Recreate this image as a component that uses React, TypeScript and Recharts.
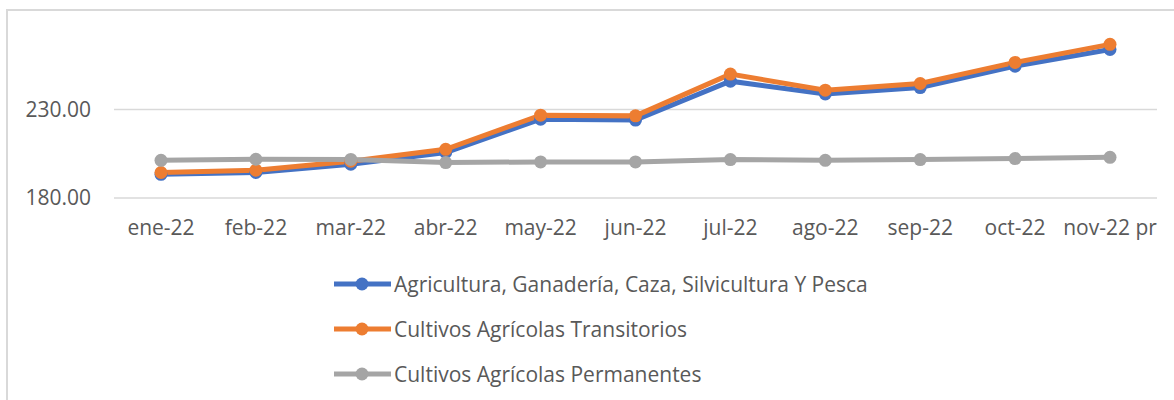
import React from 'react';
import { LineChart, Line, XAxis, YAxis, CartesianGrid, Legend } from 'recharts';

const categories = ['ene-22', 'feb-22', 'mar-22', 'abr-22', 'may-22', 'jun-22', 'jul-22', 'ago-22', 'sep-22', 'oct-22', 'nov-22 pr'];
const agricultura = [193.4, 194.4, 199.1, 205.7, 224.5, 224.0, 246.0, 238.8, 242.4, 254.5, 263.9];
const transitorios = [194.4, 195.7, 200.8, 207.5, 226.8, 226.4, 250.0, 240.9, 244.7, 256.6, 266.8];
const permanentes = [201.3, 201.9, 201.8, 200.0, 200.4, 200.4, 201.7, 201.3, 201.7, 202.3, 203.0];
const yTicks = [180, 230];

const seriesKeys = ['agricultura', 'transitorios', 'permanentes'];
const seriesNames = [
  'Agricultura, Ganadería, Caza, Silvicultura Y Pesca',
  'Cultivos Agrícolas Transitorios',
  'Cultivos Agrícolas Permanentes',
];
const seriesColors = ['#4472C4', '#ED7D31', '#A5A5A5'];

const data = categories.map((c, i) => ({
  cat: c,
  agricultura: agricultura[i],
  transitorios: transitorios[i],
  permanentes: permanentes[i],
}));

const FONT = '"Open Sans", sans-serif';
const TEXT = '#595959';

const renderLegend = () => (
  <div style={{ fontFamily: FONT, fontSize: 21, color: TEXT }}>
    {seriesNames.map((name, i) => (
      <div key={name} style={{ height: 44.7, display: 'flex', alignItems: 'center' }}>
        <svg width={60} height={16} style={{ display: 'block' }}>
          <line x1={0} y1={8} x2={57} y2={8} stroke={seriesColors[i]} strokeWidth={5} />
          <circle cx={28} cy={8} r={6.5} fill={seriesColors[i]} />
        </svg>
        <span style={{ whiteSpace: 'nowrap', lineHeight: '24px' }}>{name}</span>
      </div>
    ))}
  </div>
);

export default function App() {
  return (
    <div style={{ position: 'absolute', left: 0, top: 0, width: 1174, height: 400, background: '#fff', overflow: 'hidden' }}>
      <div
        style={{
          position: 'absolute',
          left: 6,
          top: 9,
          width: 1200,
          height: 420,
          borderLeft: '2px solid #d9d9d9',
          borderTop: '2px solid #d9d9d9',
        }}
      />
      <div style={{ position: 'absolute', left: 0, top: 0 }}>
        <LineChart
          width={1174}
          height={400}
          data={data}
          margin={{ top: 21, right: 17, bottom: 172, left: 34 }}
        >
          <CartesianGrid vertical={false} horizontalValues={yTicks} stroke="#d9d9d9" strokeWidth={1.5} />
          <XAxis
            dataKey="cat"
            axisLine={false}
            tickLine={false}
            tickMargin={16}
            height={30}
            interval={0}
            padding={{ left: 47, right: 47 }}
            tick={{ fill: TEXT, fontSize: 21, fontFamily: FONT }}
          />
          <YAxis
            width={80}
            domain={[180, 280]}
            ticks={yTicks}
            axisLine={false}
            tickLine={false}
            tickMargin={17}
            tickFormatter={(v: number) => v.toFixed(2)}
            tick={{ fill: TEXT, fontSize: 21, fontFamily: FONT }}
          />
          <Legend
            layout="horizontal"
            verticalAlign="middle"
            align="center"
            wrapperStyle={{ left: 334, top: 262, width: 'auto' }}
            content={renderLegend}
          />
          {seriesKeys.map((k, i) => (
            <Line
              key={k}
              name={seriesNames[i]}
              dataKey={k}
              stroke={seriesColors[i]}
              strokeWidth={5}
              dot={{ r: 6.5, fill: seriesColors[i], stroke: seriesColors[i], strokeWidth: 0 }}
              activeDot={false}
              isAnimationActive={false}
            />
          ))}
        </LineChart>
      </div>
    </div>
  );
}
